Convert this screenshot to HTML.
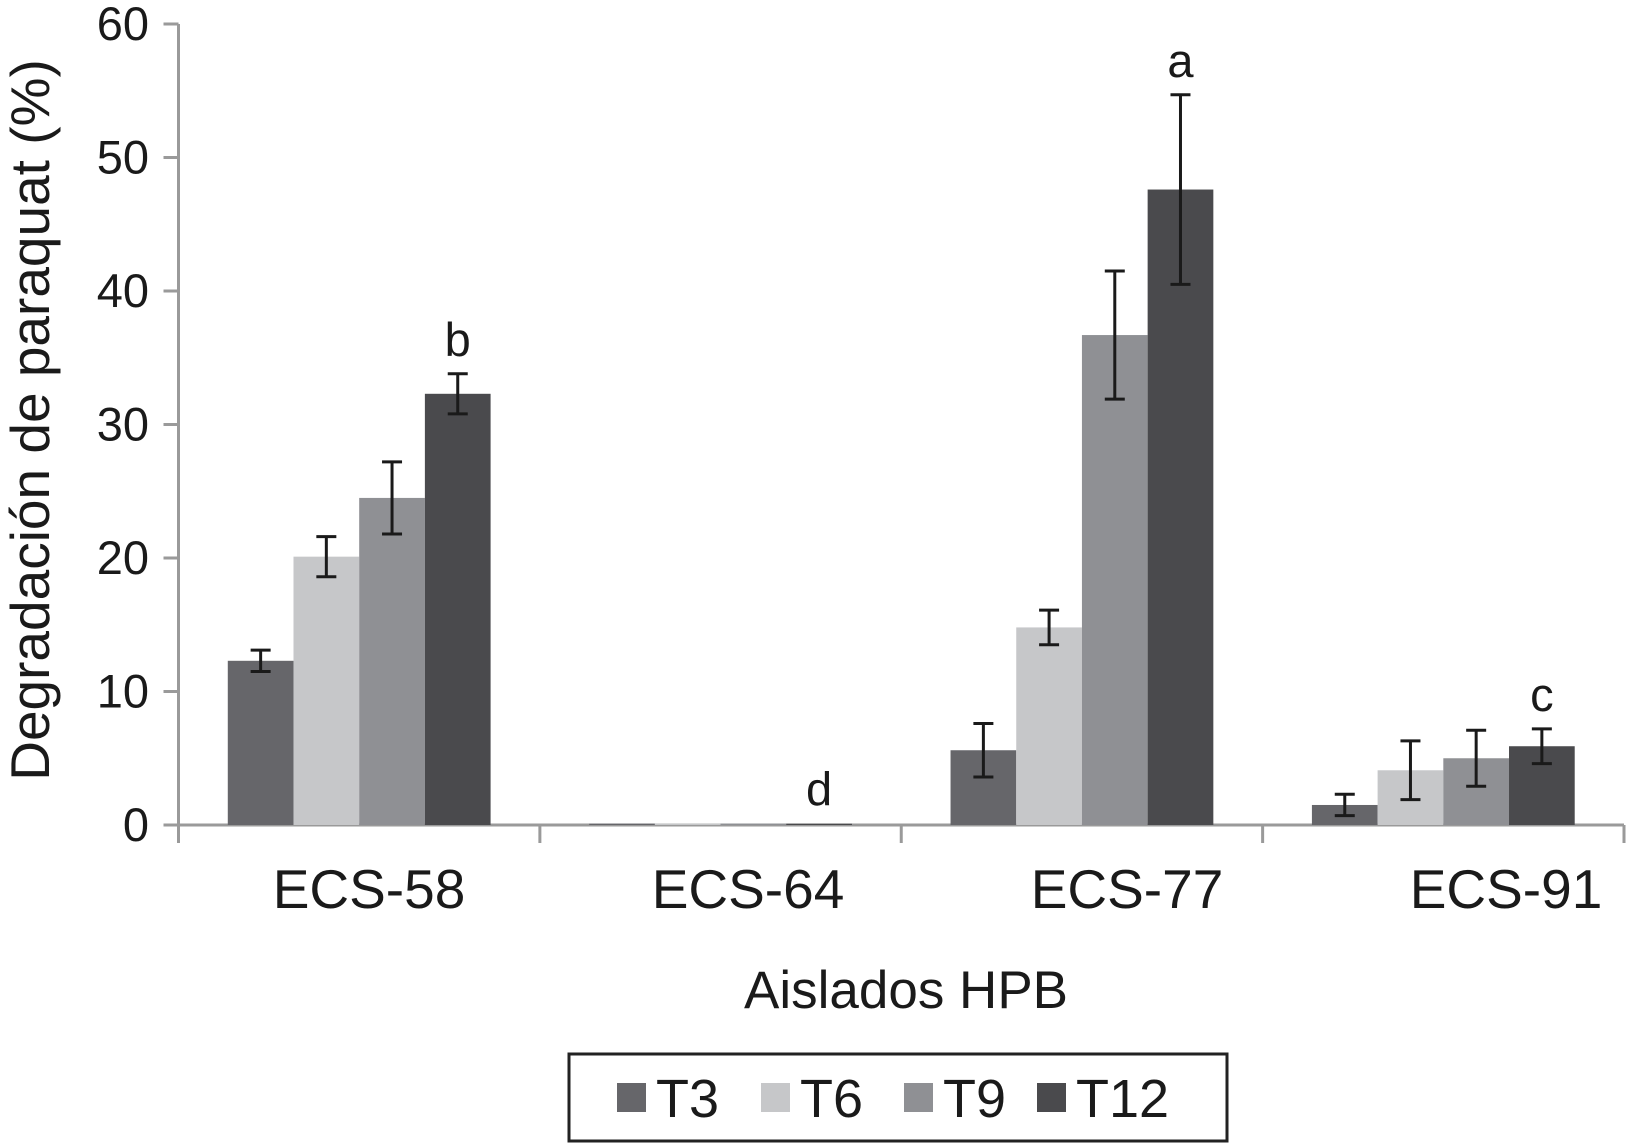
<!DOCTYPE html>
<html><head><meta charset="utf-8"><style>
html,body{margin:0;padding:0;background:#fff}
svg{display:block}
text{font-family:"Liberation Sans Narrow","Liberation Sans",sans-serif;fill:#1a1a1a}
</style></head><body>
<svg id="chart" width="1627" height="1145" viewBox="0 0 1627 1145" xmlns="http://www.w3.org/2000/svg">
<g id="axes"></g><g id="bars"></g><g id="errs"></g><g id="labels"></g>
<g>
<rect x="569" y="1054" width="658" height="87" fill="#fff" stroke="#222" stroke-width="3"/>
<g id="legend"></g>
</g>
<text x="906" y="1008" font-size="53" text-anchor="middle">Aislados HPB</text>
<text transform="translate(49,420) rotate(-90)" font-size="55" text-anchor="middle">Degradación de paraquat (%)</text>
</svg>
<script>
const categories = ["ECS-58","ECS-64","ECS-77","ECS-91"];
const seriesNames = ["T3","T6","T9","T12"];
const T3 = [12.3, 0.1, 5.6, 1.5];
const T6 = [20.1, 0.1, 14.8, 4.1];
const T9 = [24.5, 0.1, 36.7, 5.0];
const T12 = [32.3, 0.1, 47.6, 5.9];
const T3err = [0.8, 0, 2.0, 0.8];
const T6err = [1.5, 0, 1.3, 2.2];
const T9err = [2.7, 0, 4.8, 2.1];
const T12err = [1.5, 0, 7.1, 1.3];
const letters = ["b","d","a","c"];
const yTicks = [0,10,20,30,40,50,60];

const colors = ["#66666a","#c6c7c9","#8f9094","#4a4a4d"];
const series = [T3,T6,T9,T12], errs=[T3err,T6err,T9err,T12err];
const NS="http://www.w3.org/2000/svg";
const x0=178.5, x1=1624, yBase=825, yTop=24;
const catW=(x1-x0)/categories.length, barW=65.7, pad=(catW-4*barW)/2;
const y=v=>yBase-(v/60)*(yBase-yTop);
const bx=(c,s)=>x0+c*catW+pad+s*barW;
function mk(tag,attrs,parent){const e=document.createElementNS(NS,tag);for(const k in attrs)e.setAttribute(k,attrs[k]);document.getElementById(parent).appendChild(e);return e;}
const G="#9a9a9a";
let e;
e=mk("line",{x1:x0,y1:yTop,x2:x0,y2:yBase+18,stroke:G,"stroke-width":3},"axes");


e=mk("line",{x1:x0-15,y1:yBase,x2:x1,y2:yBase,stroke:G,"stroke-width":3},"axes");


yTicks.forEach(t=>{
  e=mk("line",{x1:x0-15,y1:y(t),x2:x0,y2:y(t),stroke:G,"stroke-width":3},"axes");
  
  
  e=mk("text",{x:149,y:y(t)+16,"font-size":47,"text-anchor":"end"},"axes");
  e.textContent=t;
  
  
});
for(let c=1;c<=categories.length;c++){
  e=mk("line",{x1:x0+c*catW,y1:yBase,x2:x0+c*catW,y2:yBase+18,stroke:G,"stroke-width":3},"axes");
  
  
}
categories.forEach((cat,c)=>{
  e=mk("text",{x:369+c*379,y:908,"font-size":55,"text-anchor":"middle"},"labels");
  e.textContent=cat;
  
  
  series.forEach((ser,s)=>{
    const v=ser[c];
    e=mk("rect",{x:bx(c,s),y:y(v),width:barW,height:yBase-y(v),fill:colors[s]},"bars");
    
    
    const er=errs[s][c];
    if(er>0){
      const cx=bx(c,s)+barW/2;
      const g=mk("g",{stroke:"#1a1a1a","stroke-width":3},"errs");
      
      
      [[cx,y(v+er),cx,y(v-er)],[cx-10,y(v+er),cx+10,y(v+er)],[cx-10,y(v-er),cx+10,y(v-er)]].forEach(l=>{
        const ln=document.createElementNS(NS,"line");
        ln.setAttribute("x1",l[0]);ln.setAttribute("y1",l[1]);ln.setAttribute("x2",l[2]);ln.setAttribute("y2",l[3]);
        g.appendChild(ln);
      });
    }
  });
  const top=T12[c]+T12err[c];
  e=mk("text",{x:bx(c,3)+barW/2,y:y(top)-18,"font-size":47,"text-anchor":"middle"},"labels");
  e.textContent=letters[c];
  
  
});
const lx=[617,761,904,1037];
seriesNames.forEach((n,s)=>{
  e=mk("rect",{x:lx[s],y:1083,width:29,height:29,fill:colors[s]},"legend");
  
  
  e=mk("text",{x:lx[s]+39,y:1117,"font-size":54},"legend");
  e.textContent=n;
  
  
});
</script>
</body></html>
